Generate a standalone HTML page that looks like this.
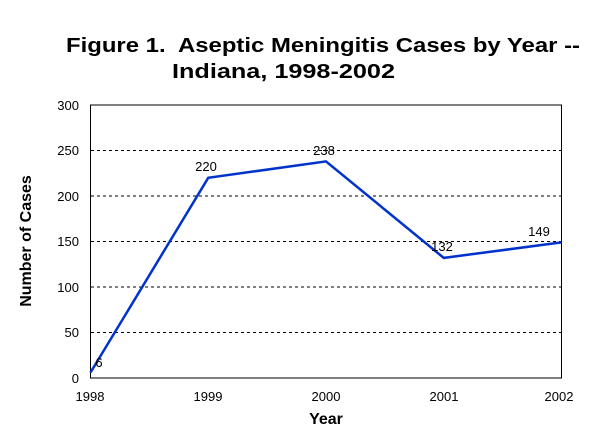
<!DOCTYPE html>
<html><head><style>body{margin:0;background:#fff}svg{display:block}</style></head><body>
<svg width="600" height="447" xmlns="http://www.w3.org/2000/svg" font-family="Liberation Sans, Arial, sans-serif">
<rect width="600" height="447" fill="#fff"/>
<text x="323" y="52" font-size="20" font-weight="bold" text-anchor="middle" textLength="514" lengthAdjust="spacingAndGlyphs" xml:space="preserve">Figure 1.  Aseptic Meningitis Cases by Year --</text>
<text x="283.5" y="78" font-size="20" font-weight="bold" text-anchor="middle" textLength="223" lengthAdjust="spacingAndGlyphs">Indiana, 1998-2002</text>
<g stroke="#000" stroke-width="1" stroke-dasharray="3,3">
<line x1="91" y1="150.5" x2="561" y2="150.5"/>
<line x1="91" y1="196" x2="561" y2="196"/>
<line x1="91" y1="241.5" x2="561" y2="241.5"/>
<line x1="91" y1="287" x2="561" y2="287"/>
<line x1="91" y1="332.5" x2="561" y2="332.5"/>
</g>
<rect x="90.5" y="105" width="471" height="273" fill="none" stroke="#000" stroke-width="1"/>
<polyline points="90.5,372.5 208.25,177.8 326,161.4 443.75,257.9 561.5,242.4" fill="none" stroke="#0033cc" stroke-width="2.5"/>
<g font-size="13" text-anchor="end">
<text x="79" y="110">300</text>
<text x="79" y="155">250</text>
<text x="79" y="201">200</text>
<text x="79" y="246">150</text>
<text x="79" y="292">100</text>
<text x="79" y="337">50</text>
<text x="79" y="383">0</text>
</g>
<g font-size="13" text-anchor="middle">
<text x="90" y="401">1998</text>
<text x="208" y="401">1999</text>
<text x="326" y="401">2000</text>
<text x="444" y="401">2001</text>
<text x="559" y="401">2002</text>
<text x="99" y="367">6</text>
<text x="206" y="171">220</text>
<text x="324" y="155">238</text>
<text x="442" y="251">132</text>
<text x="539" y="236">149</text>
</g>
<text x="326" y="424" font-size="16" font-weight="bold" text-anchor="middle">Year</text>
<text transform="translate(31,241) rotate(-90)" font-size="16" font-weight="bold" text-anchor="middle">Number of Cases</text>
</svg>
</body></html>
